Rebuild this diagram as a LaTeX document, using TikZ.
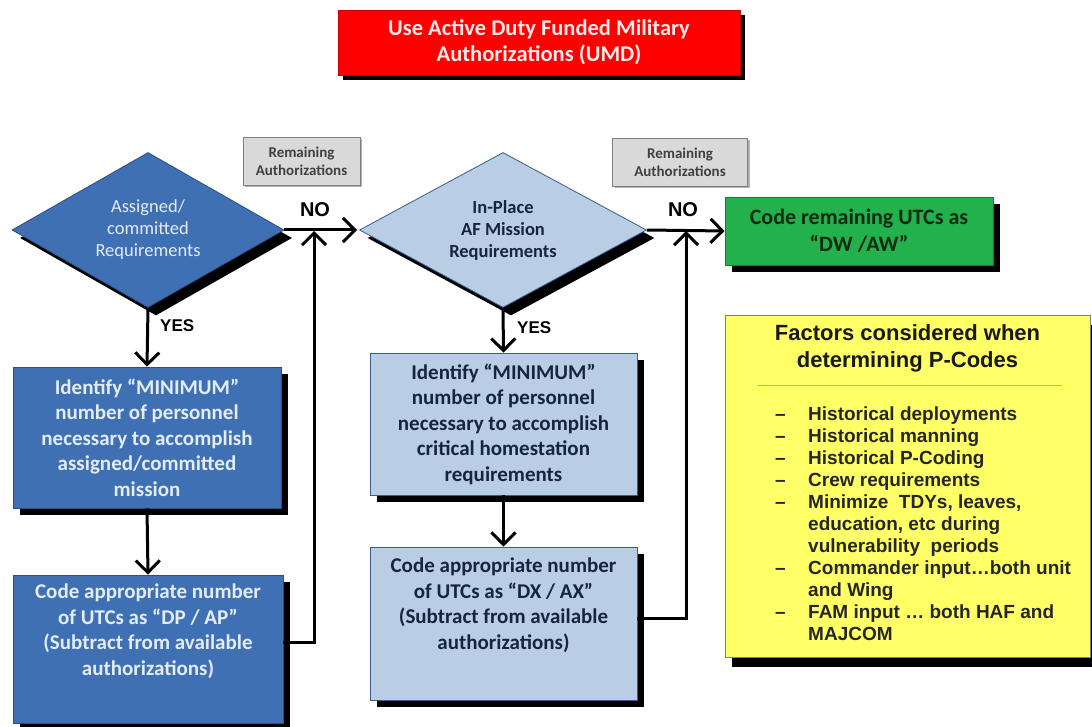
\documentclass[tikz,border=0pt]{standalone}
\usepackage{fontspec}
\setmainfont{Carlito}
\newfontfamily\arialfont{Liberation Sans}
\usetikzlibrary{shapes.geometric,arrows.meta,shadows}
\definecolor{dblue}{HTML}{3F70B4}
\definecolor{dblueline}{HTML}{2B4F82}
\definecolor{lblue}{HTML}{B9CDE5}
\definecolor{lblueline}{HTML}{385D8A}
\definecolor{navytext}{HTML}{17243D}
\definecolor{paletext}{HTML}{E4ECF7}
\definecolor{grfill}{HTML}{22B14C}
\definecolor{grtext}{HTML}{0B2A12}
\definecolor{yfill}{HTML}{FFFF66}
\definecolor{gboxfill}{HTML}{D9D9D9}
\definecolor{gboxline}{HTML}{7F7F7F}
\definecolor{gboxtext}{HTML}{404040}
\definecolor{sepline}{HTML}{9FB3C8}
\begin{document}
\begin{tikzpicture}[x=1pt,y=-1pt,
  shadowed/.style={drop shadow={shadow xshift=7pt,shadow yshift=-7pt,fill=black,opacity=1}},
  rectbox/.style={rectangle,inner sep=0pt,align=center,line width=0.8pt},
  darkbox/.style={rectbox,fill=dblue,draw=dblueline,text=paletext,shadowed,
    font=\fontsize{21}{25.5}\selectfont\bfseries},
  lightbox/.style={rectbox,fill=lblue,draw=lblueline,text=navytext,shadowed,
    font=\fontsize{21}{25.5}\selectfont\bfseries},
  graybox/.style={rectbox,fill=gboxfill,draw=gboxline,text=gboxtext,
    font=\fontsize{15}{18}\selectfont\bfseries,
    drop shadow={shadow xshift=2pt,shadow yshift=-2pt,fill=gray,opacity=0.6}},
  dec/.style={diamond,inner sep=0pt,align=center,line width=0.8pt,
    drop shadow={shadow xshift=8pt,shadow yshift=-8pt,fill=black,opacity=1}},
  conn/.style={line width=3pt,-{Straight Barb[length=12pt,width=24pt,line width=3pt]}},
  yn/.style={font=\arialfont\bfseries\fontsize{17}{20}\selectfont,inner sep=0pt},
  nolabel/.style={font=\arialfont\bfseries\fontsize{20}{22}\selectfont,inner sep=0pt}
]
\useasboundingbox (0,0) rectangle (1092,727);
\fill[white] (0,0) rectangle (1092,727);

% Title box
\node[rectbox,fill=red,draw=red!80!black,text=white!92!red,
  font=\fontsize{22.5}{26.5}\selectfont\bfseries,
  minimum width=402pt,minimum height=65pt,
  drop shadow={shadow xshift=5pt,shadow yshift=-5pt,fill=black,opacity=1}]
  (umd) at (539,42.5) {Use Active Duty Funded Military\\Authorizations (UMD)};

% Remaining authorizations boxes
\node[graybox,minimum width=117pt,minimum height=48pt] (rem1) at (301.5,161)
  {Remaining\\Authorizations};
\node[graybox,minimum width=135pt,minimum height=48pt] (rem2) at (680,162)
  {Remaining\\Authorizations};

% Diamonds
\node[dec,aspect=1.75,minimum width=272pt,minimum height=155pt,
  fill=dblue,draw=dblueline,text=paletext,
  font=\fontsize{18.5}{22}\selectfont] (d1) at (148,230)
  {Assigned/\\committed\\Requirements};
\node[dec,aspect=1.85,minimum width=287pt,minimum height=155pt,
  fill=lblue,draw=lblueline,text=navytext,
  font=\fontsize{18.5}{22}\selectfont\bfseries] (d2) at (503,230)
  {In-Place\\AF Mission\\Requirements};

% Green box
\node[rectbox,fill=grfill,draw=grfill!70!black,text=grtext,shadowed,
  font=\fontsize{22}{27}\selectfont\bfseries,
  minimum width=268pt,minimum height=68pt] (dw) at (859,231)
  {Code remaining UTCs as\\``DW /AW''};

% Left column boxes
\node[darkbox,minimum width=268pt,minimum height=141pt] (lb1) at (147,437.5)
  {Identify ``MINIMUM''\\number of personnel\\necessary to accomplish\\assigned/committed\\mission};
\node[darkbox,minimum width=270pt,minimum height=148pt] (lb2) at (148,649) {};
\node[rectbox,anchor=north,text=paletext,font=\fontsize{21}{25.5}\selectfont\bfseries]
  (lb2t) at ([yshift=-9pt]lb2.north)
  {Code appropriate number\\of UTCs as ``DP / AP''\\(Subtract from available\\authorizations)};

% Middle column boxes
\node[lightbox,minimum width=267pt,minimum height=142pt] (mb1) at (503.5,424)
  {Identify ``MINIMUM''\\number of personnel\\necessary to accomplish\\critical homestation\\requirements};
\node[lightbox,minimum width=267pt,minimum height=153pt] (mb2) at (503.5,623.5) {};
\node[rectbox,anchor=north,text=navytext,font=\fontsize{21}{25.5}\selectfont\bfseries]
  (mb2t) at ([yshift=-11pt]mb2.north)
  {Code appropriate number\\of UTCs as ``DX / AX''\\(Subtract from available\\authorizations)};

% Factors box
\node[rectbox,fill=yfill,draw=gray,minimum width=365pt,minimum height=342pt,
  drop shadow={shadow xshift=7pt,shadow yshift=-10pt,fill=black,opacity=1}]
  (fac) at (907.5,486) {};
\node[inner sep=0pt,align=center,font=\arialfont\bfseries\fontsize{22}{27}\selectfont,
  text=black!90] (factitle) at (907.5,348)
  {Factors considered when\\determining P-Codes};
\draw[sepline,line width=1pt] (757,385) -- (1062,385);
\node[inner sep=0pt,anchor=north west,text=black!85,
  font=\arialfont\bfseries\fontsize{19}{22}\selectfont] (faclist) at (775,405)
  {\begin{tabular}{@{}p{33pt}@{}p{280pt}@{}}
   –& Historical deployments\\
   –& Historical manning\\
   –& Historical P-Coding\\
   –& Crew requirements\\
   –& Minimize\ \ TDYs, leaves,\newline education, etc during\newline vulnerability\ \ periods\\
   –& Commander input…both unit\newline and Wing\\
   –& FAM input … both HAF and\newline MAJCOM
   \end{tabular}};

% Junction coordinates
\coordinate (j1) at (314,231);
\coordinate (j2) at (686,231);

% Connectors
\draw[conn] (d1.south) -- (lb1.north);
\draw[conn] (lb1.south) -- (lb2.north);
\draw[conn] (d1.east) -- ([xshift=-2pt]d2.west);
\draw[conn] ([yshift=7pt]lb2.east) -| (j1);
\draw[conn] (d2.south) -- (mb1.north);
\draw[conn] (mb1.south) -- (mb2.north);
\draw[conn] (d2.east) -- (dw.west);
\draw[conn] ([yshift=5pt]mb2.east) -| (j2);

% Labels
\node[yn,anchor=west] (yes1) at (160,326) {YES};
\node[yn,anchor=west] (yes2) at (517,328) {YES};
\node[nolabel] (no1) at (315,210) {NO};
\node[nolabel] (no2) at (683,210) {NO};
\end{tikzpicture}
\end{document}
